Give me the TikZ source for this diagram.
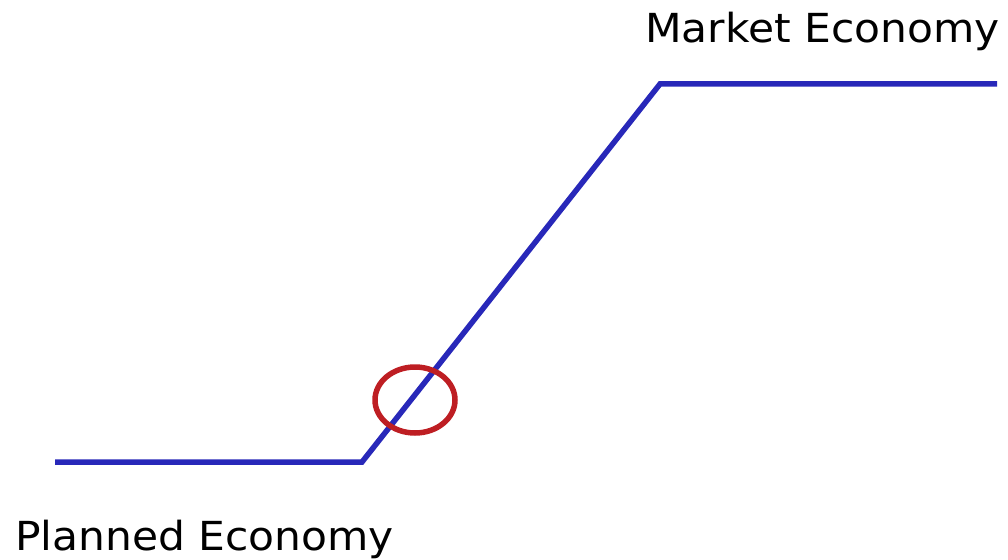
\documentclass[tikz,border=0pt]{standalone}
\usepackage{fontspec}
\usetikzlibrary{shapes.geometric}
\setmainfont{DejaVu Sans}[FakeStretch=1.06]
\begin{document}
\begin{tikzpicture}[x=1pt,y=-1pt,
  curve/.style={draw=lineblue,line width=5.5pt,line join=miter},
  lbl/.style={inner sep=0pt,font=\fontsize{40}{44}\selectfont,text=black}]
\definecolor{lineblue}{RGB}{40,40,185}
\definecolor{circred}{RGB}{190,30,35}
\useasboundingbox (0,0) rectangle (1008,559);
\coordinate (p0) at (55,462);
\coordinate (p1) at (362,462);
\coordinate (p2) at (660,84);
\coordinate (p3) at (997,84);
\draw[curve] (p0) -- (p1) -- (p2) -- (p3);
\node[draw=circred,line width=5.5pt,ellipse,minimum width=80pt,minimum height=66pt,inner sep=0pt] (c) at (415,400) {};
\node[lbl,anchor=base west] (m) at (645,43) {Market Economy};
\node[lbl,anchor=base west] (pl) at (15,550) {Planned Economy};
\end{tikzpicture}
\end{document}
